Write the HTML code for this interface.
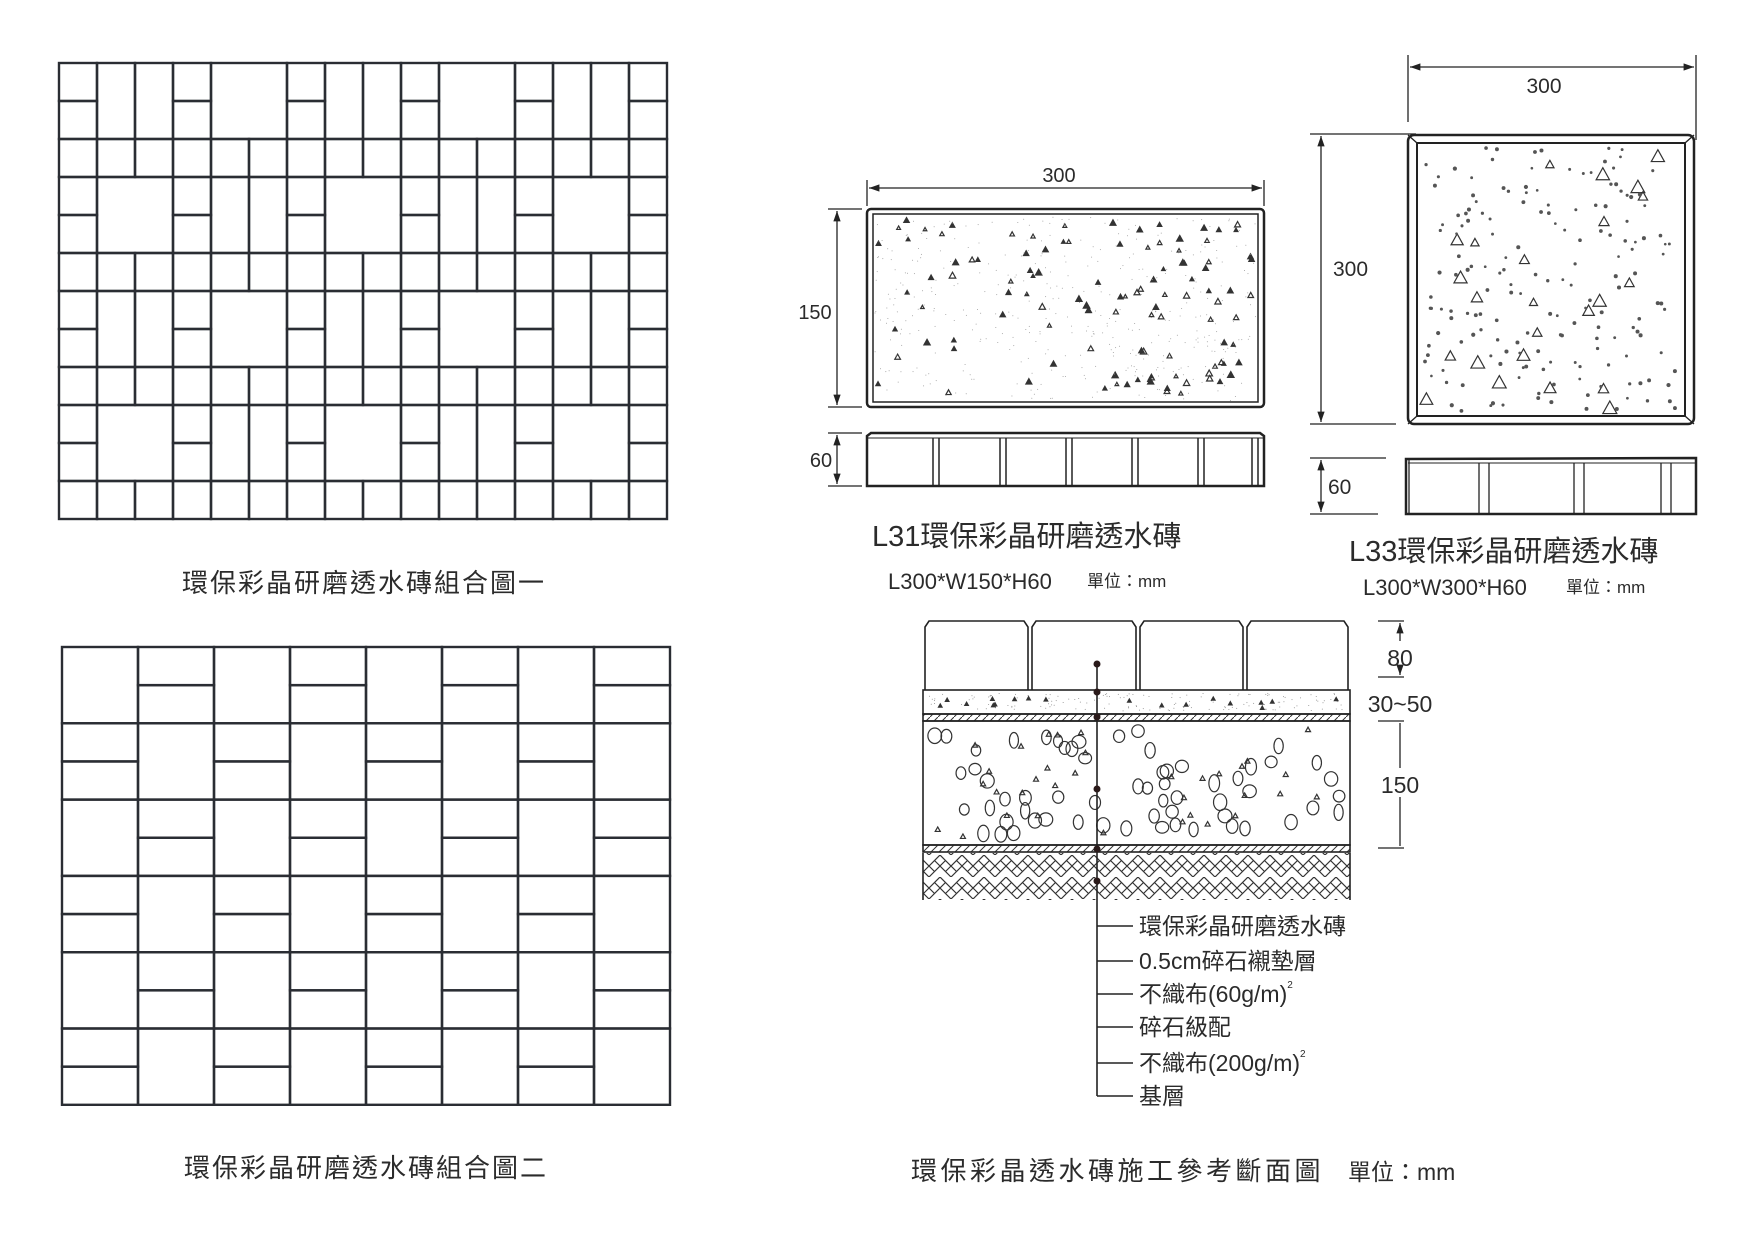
<!DOCTYPE html>
<html><head><meta charset="utf-8">
<style>
html,body{margin:0;padding:0;background:#fff;}
svg{display:block;}
text{font-family:"Liberation Sans","Noto Sans CJK TC",sans-serif;fill:#2b2b2b;}
</style></head>
<body>
<svg id="s" xmlns="http://www.w3.org/2000/svg" width="1754" height="1240" viewBox="0 0 1754 1240">
<defs>
<marker id="ar" viewBox="0 0 10 10" refX="10" refY="5" markerWidth="10" markerHeight="8" orient="auto-start-reverse"><path d="M0,1.5 L10,5 L0,8.5 z" fill="#222"/></marker>
<pattern id="hb" width="22" height="22" patternUnits="userSpaceOnUse">
<path d="M0,0 L11,11 L22,0 M0,11 L11,22 L22,11 M5.5,5.5 L0,11 M16.5,5.5 L22,11 M5.5,16.5 L11,11 M16.5,16.5 L11,11" stroke="#333" stroke-width="1.2" fill="none"/>
</pattern>
<pattern id="hs" width="8" height="8" patternUnits="userSpaceOnUse"><path d="M0,8 L8,0" stroke="#333" stroke-width="1"/></pattern>
</defs>
<g id="g1"></g>

<text x="364" y="592" font-size="26" text-anchor="middle" letter-spacing="2">環保彩晶研磨透水磚組合圖一</text>
<text x="366" y="1177" font-size="26" text-anchor="middle" letter-spacing="2">環保彩晶研磨透水磚組合圖二</text>

<g stroke="#222" fill="none" stroke-width="1.3">
<line x1="867" y1="180" x2="867" y2="206"/><line x1="1264" y1="180" x2="1264" y2="206"/>
<line x1="869" y1="188" x2="1262" y2="188" marker-start="url(#ar)" marker-end="url(#ar)"/>
<line x1="828" y1="209" x2="862" y2="209"/><line x1="828" y1="407" x2="862" y2="407"/>
<line x1="837" y1="211" x2="837" y2="405" marker-start="url(#ar)" marker-end="url(#ar)"/>
<line x1="828" y1="433" x2="862" y2="433"/><line x1="828" y1="486" x2="862" y2="486"/>
<line x1="837" y1="435" x2="837" y2="484" marker-start="url(#ar)" marker-end="url(#ar)"/>
<rect x="867" y="209" width="397" height="198" rx="4" stroke-width="2.5"/>
<rect x="873" y="214" width="385" height="188" stroke-width="1.5"/>
<path d="M867,436 L871,433 L1260,433 L1264,436 L1264,486 L867,486 Z" stroke-width="2.5"/>
<line x1="867" y1="438" x2="1264" y2="438" stroke-width="1"/>
</g>
<g id="l31side" stroke="#222" stroke-width="1.5"></g>
<text x="1059" y="182" font-size="20" text-anchor="middle">300</text>
<text x="815" y="319" font-size="20" text-anchor="middle">150</text>
<text x="821" y="467" font-size="20" text-anchor="middle">60</text>
<text x="872" y="546" font-size="29">L31環保彩晶研磨透水磚</text>
<text x="888" y="589" font-size="22">L300*W150*H60</text>
<text x="1087" y="587" font-size="17">單位：mm</text>

<g stroke="#222" fill="none" stroke-width="1.3">
<line x1="1408" y1="55" x2="1408" y2="122"/><line x1="1696" y1="55" x2="1696" y2="140"/>
<line x1="1410" y1="67" x2="1694" y2="67" marker-start="url(#ar)" marker-end="url(#ar)"/>
<line x1="1310" y1="134" x2="1416" y2="134"/><line x1="1310" y1="424" x2="1396" y2="424"/>
<line x1="1321" y1="136" x2="1321" y2="422" marker-start="url(#ar)" marker-end="url(#ar)"/>
<line x1="1310" y1="458" x2="1386" y2="458"/><line x1="1310" y1="514" x2="1378" y2="514"/>
<line x1="1321" y1="460" x2="1321" y2="512" marker-start="url(#ar)" marker-end="url(#ar)"/>
<rect x="1408" y="135" width="286" height="289" rx="6" stroke-width="2.5"/>
<rect x="1417" y="143" width="268" height="273" stroke-width="2"/>
<line x1="1408" y1="135" x2="1417" y2="143"/><line x1="1694" y1="135" x2="1685" y2="143"/>
<line x1="1408" y1="424" x2="1417" y2="416"/><line x1="1694" y1="424" x2="1685" y2="416"/>
<path d="M1406,459 L1696,458 L1696,514 L1406,514 Z" stroke-width="2.5"/>
<line x1="1408" y1="463" x2="1696" y2="463" stroke-width="1"/>
<line x1="1409" y1="459" x2="1409" y2="514"/>
<line x1="1479" y1="463" x2="1479" y2="514"/><line x1="1489" y1="463" x2="1489" y2="514"/>
<line x1="1574" y1="463" x2="1574" y2="514"/><line x1="1584" y1="463" x2="1584" y2="514"/>
<line x1="1661" y1="463" x2="1661" y2="514"/><line x1="1671" y1="463" x2="1671" y2="514"/>
</g>
<text x="1544" y="93" font-size="21" text-anchor="middle">300</text>
<text x="1333" y="276" font-size="21">300</text>
<text x="1328" y="494" font-size="21">60</text>
<text x="1349" y="561" font-size="29">L33環保彩晶研磨透水磚</text>
<text x="1363" y="595" font-size="22">L300*W300*H60</text>
<text x="1566" y="593" font-size="17">單位：mm</text>

<g transform="translate(-6,-3)">
<g id="sec"></g>
<g stroke="#222" stroke-width="1.3" fill="none">
<line x1="1384" y1="624" x2="1410" y2="624"/><line x1="1384" y1="680" x2="1410" y2="680"/>
<line x1="1406" y1="626" x2="1406" y2="644" marker-start="url(#ar)"/>
<line x1="1406" y1="670" x2="1406" y2="678" marker-end="url(#ar)"/>
<line x1="1384" y1="724" x2="1410" y2="724"/><line x1="1384" y1="851" x2="1410" y2="851"/>
<line x1="1406" y1="726" x2="1406" y2="771"/><line x1="1406" y1="800" x2="1406" y2="849"/>
</g>
<text x="1406" y="669" font-size="23" text-anchor="middle">80</text>
<text x="1406" y="715" font-size="23" text-anchor="middle">30~50</text>
<text x="1406" y="796" font-size="23" text-anchor="middle">150</text>
<g font-size="23">
<text x="1145" y="937">環保彩晶研磨透水磚</text>
<text x="1145" y="972">0.5cm碎石襯墊層</text>
<text x="1145" y="1005">不織布(60g/m)<tspan font-size="10" dy="-14">2</tspan></text>
<text x="1145" y="1038">碎石級配</text>
<text x="1145" y="1074">不織布(200g/m)<tspan font-size="10" dy="-14">2</tspan></text>
<text x="1145" y="1107">基層</text>
</g>
</g>
<text x="911" y="1180" font-size="26" letter-spacing="3.5">環保彩晶透水磚施工參考斷面圖</text>
<text x="1348" y="1180" font-size="23">單位：mm</text>
</svg>
<script>
(function(){
var NS="http://www.w3.org/2000/svg";
function el(p,n,a){var e=document.createElementNS(NS,n);for(var k in a)e.setAttribute(k,a[k]);p.appendChild(e);return e;}
var seed=7;function R(){seed=(seed*16807)%2147483647;return seed/2147483647;}
var g1=document.getElementById('g1');
var st={fill:'none',stroke:'#2a2d33','stroke-width':'2.4'};
function rc(x,y,w,h){var a={x:x,y:y,width:w,height:h};for(var k in st)a[k]=st[k];el(g1,'rect',a);}
var x0=59,y0=63,u=38.0;
var A="svvsBBsvvsBBsvvs",B="sBBsvvsBBsvvsBBs";
var bands=[[0,A],[2,null],[3,B],[5,null],[6,A],[8,null],[9,B],[11,null]];
bands.forEach(function(b){var r=b[0],p=b[1];
 if(!p){for(var c=0;c<16;c++)rc(x0+c*u,y0+r*u,u,u);return;}
 for(var c=0;c<16;c++){var t=p[c];
  if(t=='s'){rc(x0+c*u,y0+r*u,u,u);rc(x0+c*u,y0+(r+1)*u,u,u);}
  else if(t=='v'){rc(x0+c*u,y0+r*u,u,2*u);}
  else if(t=='B'){rc(x0+c*u,y0+r*u,2*u,2*u);c++;}
 }});
var gx=62,gy=647,w=76,h=76.3;
for(var b=0;b<6;b++)for(var s=0;s<8;s++){
 if((s+b)%2==0)rc(gx+s*w,gy+b*h,w,h);
 else{rc(gx+s*w,gy+b*h,w,h/2);rc(gx+s*w,gy+b*h+h/2,w,h/2);}
}
var svg=document.getElementById('s');
var sp=el(svg,'g',{});
function tri(g,x,y,s,fill){el(g,'path',{d:'M'+x+','+(y-s)+' L'+(x+s)+','+(y+s*0.8)+' L'+(x-s)+','+(y+s*0.8)+' Z',fill:fill?'#333':'none',stroke:'#333','stroke-width':1.2});}
for(var i=0;i<110;i++){tri(sp,878+R()*375,220+R()*178,1.8+R()*1.5,R()<0.6);}
for(var i=0;i<400;i++){el(sp,'circle',{cx:875+R()*382,cy:217+R()*184,r:0.5,fill:'#999'});}
var ls=document.getElementById('l31side');
[933,1000,1066,1132,1198,1252].forEach(function(x){el(ls,'line',{x1:x,y1:438,x2:x,y2:486});el(ls,'line',{x1:x+6,y1:438,x2:x+6,y2:486});});
for(var i=0;i<24;i++){tri(sp,1425+R()*252,150+R()*258,4+R()*3,false);}
for(var i=0;i<170;i++){el(sp,'circle',{cx:1422+R()*258,cy:148+R()*264,r:1.3+R()*0.8,fill:'#555'});}
var sec=document.getElementById('sec');
var L=929,Rr=1356;
var tx=[929,1036,1144,1251,1356];
for(var i=0;i<4;i++){var a=tx[i]+2,b=tx[i+1]-2;
 el(sec,'path',{d:'M'+a+',693 L'+a+',630 L'+(a+4)+',624 L'+(b-4)+',624 L'+b+',630 L'+b+',693',fill:'none',stroke:'#222','stroke-width':1.6});}
el(sec,'rect',{x:L,y:693,width:Rr-L,height:24,fill:'none',stroke:'#222','stroke-width':1.6});
for(var i=0;i<150;i++)el(sec,'circle',{cx:L+3+R()*(Rr-L-6),cy:696+R()*18,r:0.5,fill:'#888'});
for(var i=0;i<18;i++)tri(sec,L+8+R()*(Rr-L-16),700+R()*12,1.8,true);
el(sec,'rect',{x:L,y:717,width:Rr-L,height:7,fill:'url(#hs)',stroke:'#222','stroke-width':1.6});
el(sec,'rect',{x:L,y:724,width:Rr-L,height:124,fill:'none',stroke:'#222','stroke-width':1.6});
for(var i=0;i<95;i++){var cx=L+8+R()*(Rr-L-16),cy=732+R()*108;
 if(R()<0.6)el(sec,'ellipse',{cx:cx,cy:cy,rx:4.5+R()*2.5,ry:5.5+R()*3,fill:'none',stroke:'#333','stroke-width':1.2});
 else tri(sec,cx,cy,2.5,false);}
el(sec,'rect',{x:L,y:848,width:Rr-L,height:7,fill:'url(#hs)',stroke:'#222','stroke-width':1.6});
el(sec,'rect',{x:L,y:856,width:Rr-L,height:47,fill:'url(#hb)',stroke:'none'});
el(sec,'path',{d:'M'+L+',856 L'+L+',903 M'+Rr+',856 L'+Rr+',903',stroke:'#222','stroke-width':1.6});
el(sec,'line',{x1:1103,y1:667,x2:1103,y2:1099,stroke:'#222','stroke-width':1.6});
[667,695,720,792,852,884].forEach(function(y){el(sec,'circle',{cx:1103,cy:y,r:3.5,fill:'#2a1a1a'});});
[929,964,997,1030,1066,1099].forEach(function(y){el(sec,'line',{x1:1103,y1:y,x2:1139,y2:y,stroke:'#222','stroke-width':1.6});});
})();
</script>
</body></html>
